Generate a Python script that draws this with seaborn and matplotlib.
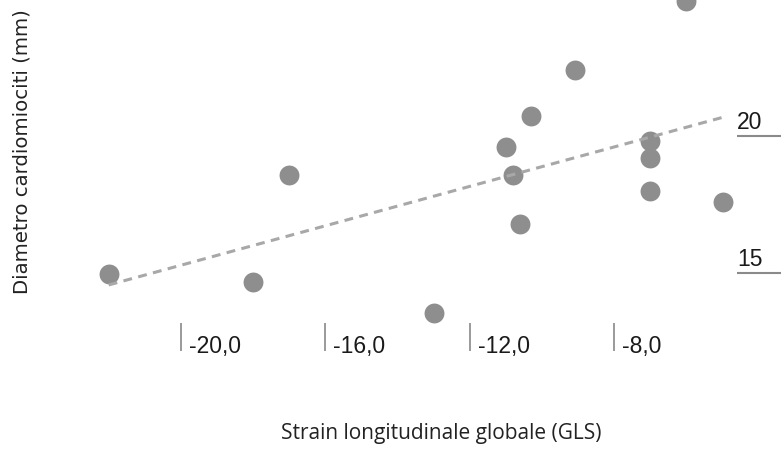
import numpy as np
import pandas as pd
import matplotlib
matplotlib.use("Agg")
import matplotlib.pyplot as plt
from matplotlib.transforms import offset_copy
import seaborn as sns

# ---- data ----
gls = [-22.0, -18.0, -17.0, -13.0, -11.0, -10.8, -10.6, -10.3, -9.1,
       -7.0, -7.0, -7.0, -6.0, -5.0]
diametro = [14.96, 14.67, 18.58, 13.54, 19.60, 18.58, 16.79, 20.73, 22.41,
            19.82, 19.20, 17.99, 24.93, 17.59]
x_ticks = [-20, -16, -12, -8]
x_tick_labels = ["-20,0", "-16,0", "-12,0", "-8,0"]
y_ticks = [15, 20]
y_tick_labels = ["15", "20"]
x_label = "Strain longitudinale globale (GLS)"
y_label = "Diametro cardiomiociti (mm)"

df = pd.DataFrame({"gls": gls, "diametro": diametro})

sns.set_style("white")
W, H = 781, 450
fig = plt.figure(figsize=(W / 100, H / 100), dpi=100)
L, R, T, B = 95, 737, 0, 323
ax = fig.add_axes([L / W, (H - B) / H, (R - L) / W, (B - T) / H])

sns.regplot(data=df, x="gls", y="diametro", ax=ax, ci=None, truncate=True,
            scatter_kws=dict(s=205, color="#8e8e8e", alpha=1.0, linewidths=0, zorder=2),
            line_kws=dict(color="#a8a8a8", lw=2.2, linestyle=(0, (2.9, 2.1)), zorder=3))

ax.set_xlim(-22.38, -4.60)
ax.set_ylim(13.18, 24.96)
for s in ax.spines.values():
    s.set_visible(False)
ax.set_xticks([])
ax.set_yticks([])
ax.set_xlabel("")
ax.set_ylabel("")

axh = B - T
axw = R - L
tx = ax.get_xaxis_transform()
for v, lab in zip(x_ticks, x_tick_labels):
    ax.plot([v, v], [0, -28 / axh], transform=tx, color="#9a9a9a", lw=1.4,
            clip_on=False, solid_capstyle="butt")
    ax.text(v, -30 / axh, lab, transform=offset_copy(tx, fig=fig, x=8, units="dots"),
            ha="left", va="baseline", fontsize=16.5, family="Liberation Sans",
            color="#1a1a1a")

ty = ax.get_yaxis_transform()
for v, lab in zip(y_ticks, y_tick_labels):
    ax.plot([1, 1 + 44 / axw], [v, v], transform=ty, color="#8a8a8a", lw=1.5,
            clip_on=False, solid_capstyle="butt")
    ax.text(1, v, lab, transform=offset_copy(ty, fig=fig, y=7, units="dots"),
            ha="left", va="baseline", fontsize=16.5, family="Liberation Sans",
            color="#1a1a1a")

fig.text(441 / W, 1 - 433 / H, x_label, ha="center", va="center",
         fontsize=15, family="Open Sans", color="#222222")
fig.text(22 / W, 1 - 152 / H, y_label, ha="center", va="center", rotation=90,
         fontsize=14.2, family="DejaVu Sans", color="#222222")

fig.savefig("out.png", dpi=100)
